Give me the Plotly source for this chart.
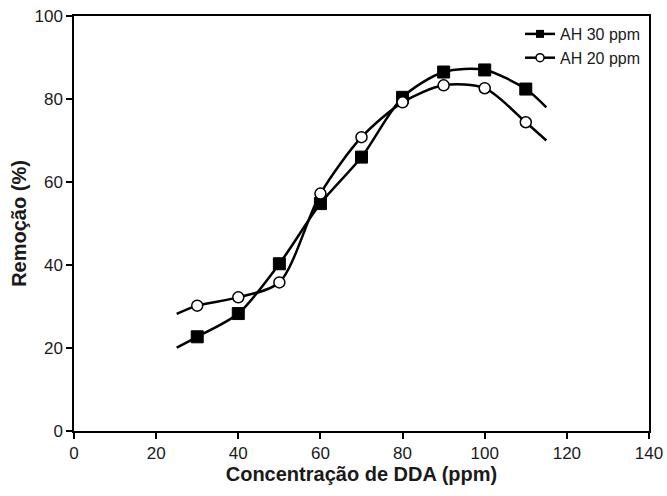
import plotly.graph_objects as go

# Data
x_pts = [30, 40, 50, 60, 70, 80, 90, 100, 110]
ah30 = [22.7, 28.3, 40.3, 54.8, 66.0, 80.4, 86.5, 87.0, 82.4]
ah20 = [30.2, 32.2, 35.8, 57.2, 70.8, 79.2, 83.3, 82.6, 74.4]

# Fitted curve ends (curves extend beyond the data points)
x_curve = [25] + x_pts + [115]
ah30_curve = [20.1] + ah30 + [78.0]
ah20_curve = [28.2] + ah20 + [70.0]

x_ticks = [0, 20, 40, 60, 80, 100, 120, 140]
y_ticks = [0, 20, 40, 60, 80, 100]

FONT = "Liberation Sans, Arial, sans-serif"
TXT = "#1a1a1a"

fig = go.Figure()

fig.add_trace(go.Scatter(x=x_curve, y=ah30_curve, mode="lines",
                         line=dict(color="black", width=2.5, shape="spline", smoothing=0.8),
                         showlegend=False, hoverinfo="skip"))
fig.add_trace(go.Scatter(x=x_curve, y=ah20_curve, mode="lines",
                         line=dict(color="black", width=2.5, shape="spline", smoothing=0.8),
                         showlegend=False, hoverinfo="skip"))

fig.add_trace(go.Scatter(x=x_pts, y=ah30, mode="markers", name="AH 30 ppm",
                         marker=dict(symbol="square", size=12, color="black",
                                     line=dict(color="black", width=1)),
                         showlegend=False))
fig.add_trace(go.Scatter(x=x_pts, y=ah20, mode="markers", name="AH 20 ppm",
                         marker=dict(symbol="circle", size=11, color="white",
                                     line=dict(color="black", width=1.5)),
                         showlegend=False))

# Legend entries (line + marker)
fig.add_trace(go.Scatter(x=[None], y=[None], mode="lines+markers", name="AH 30 ppm",
                         line=dict(color="black", width=2.5),
                         marker=dict(symbol="square", size=8, color="black")))
fig.add_trace(go.Scatter(x=[None], y=[None], mode="lines+markers", name="AH 20 ppm",
                         line=dict(color="black", width=2.5),
                         marker=dict(symbol="circle", size=8, color="white",
                                     line=dict(color="black", width=1.5))))

axis_common = dict(showgrid=False, zeroline=False, showline=True, linecolor="black",
                   linewidth=1.5, mirror=True, ticks="outside", ticklen=6,
                   tickcolor="black", tickwidth=1.5, automargin=False,
                   tickfont=dict(family=FONT, size=17, color=TXT))

fig.update_layout(
    width=667, height=496,
    paper_bgcolor="white", plot_bgcolor="white",
    margin=dict(l=74, r=18, t=16, b=65, autoexpand=False),
    font=dict(family=FONT, color=TXT),
    xaxis=dict(range=[0, 140], tickvals=x_ticks,
               title=dict(text="<b>Concentração de DDA (ppm)</b>",
                          font=dict(family=FONT, size=20), standoff=0),
               **axis_common),
    yaxis=dict(range=[0, 100], tickvals=y_ticks,
               title=dict(text="<b>Remoção (%)</b>",
                          font=dict(family=FONT, size=20), standoff=2),
               **axis_common),
    legend=dict(x=0.7757, y=0.9976, xanchor="left", yanchor="top",
                bgcolor="rgba(0,0,0,0)", borderwidth=0,
                font=dict(family=FONT, size=16, color=TXT),
                tracegroupgap=0, itemwidth=30),
)

fig.write_html("out.html",
               config={"displayModeBar": False},
               post_script="document.body.style.margin='0';document.body.style.overflow='hidden';")
